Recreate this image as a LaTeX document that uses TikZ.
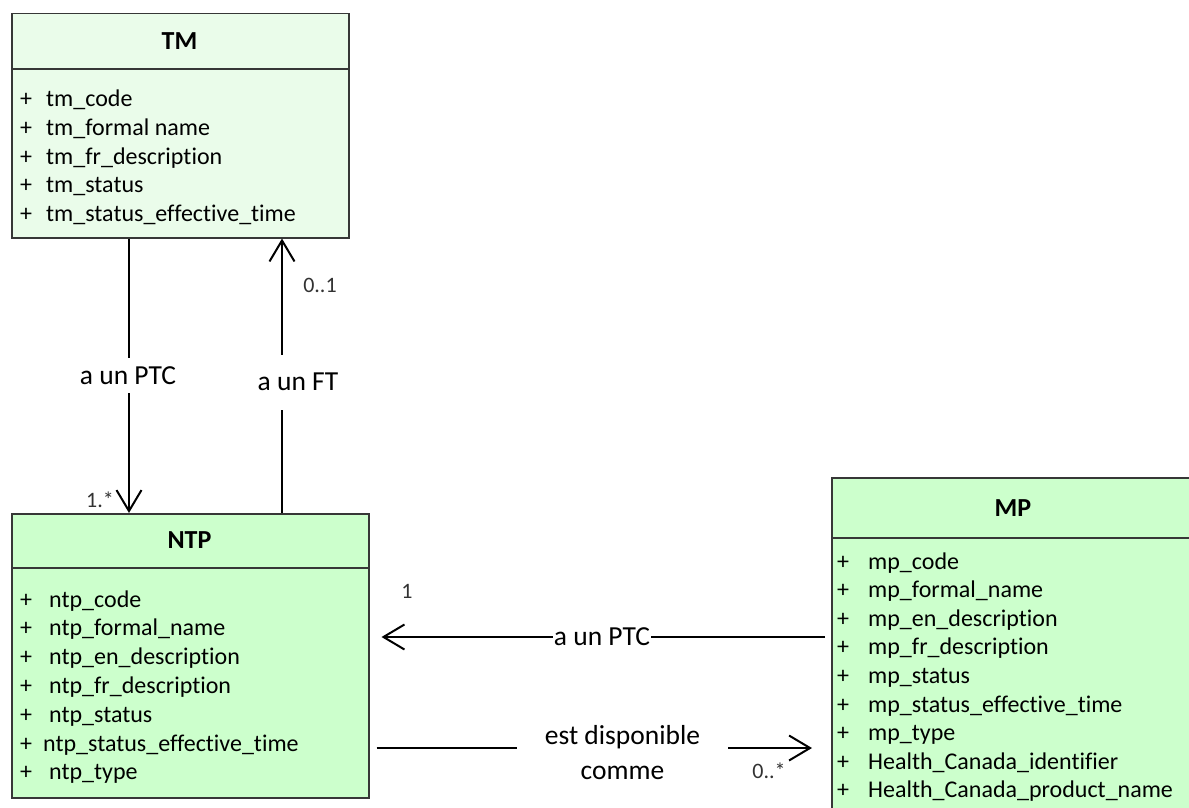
\documentclass[tikz,border=0pt]{standalone}
\usepackage{fontspec}
\setmainfont{Carlito}[Ligatures={NoCommon}]
\usetikzlibrary{arrows.meta}
\definecolor{tmfill}{RGB}{234,252,234}
\definecolor{boxfill}{RGB}{204,255,204}
\definecolor{boxline}{RGB}{55,55,55}
\definecolor{multc}{RGB}{50,50,50}
\begin{document}
\begin{tikzpicture}[x=1pt,y=-1pt,
  classbox/.style={draw=boxline, line width=1.5pt, anchor=north west, inner sep=0pt},
  sepline/.style={draw=boxline, line width=1.5pt},
  titletext/.style={font=\fontsize{26pt}{30pt}\selectfont\bfseries, inner sep=0pt, anchor=base},
  attr/.style={font=\fontsize{24pt}{28pt}\selectfont, inner sep=0pt, anchor=base west},
  plussign/.style={font=\fontsize{24pt}{28pt}\selectfont, inner sep=0pt, anchor=base},
  assoc/.style={draw=black, line width=2pt, -{Straight Barb[length=21pt,width=25pt]}},
  assoclabel/.style={font=\fontsize{27.5pt}{35pt}\selectfont, fill=white, inner sep=0pt},
  mult/.style={font=\fontsize{22pt}{26pt}\selectfont, text=multc, inner sep=0pt, anchor=base}
]
\useasboundingbox (0,0) rectangle (1189,808);
\fill[white] (0,0) rectangle (1189,808);
\clip (0,0) rectangle (1189,808);

% ---------- TM ----------
\node[classbox, fill=tmfill, minimum width=337pt, minimum height=224pt] (TM) at (11,13) {};
\draw[sepline] ([yshift=-56pt]TM.north west) -- ([yshift=-56pt]TM.north east);
\node[titletext] (TMtitle) at (179.5,50) {TM};
\foreach \t [count=\i from 0] in {tm\_code, tm\_formal name, tm\_fr\_description, tm\_status, tm\_status\_effective\_time} {
  \node[plussign] (TMplus\i) at (26,{106.5+28.8*\i}) {+};
  \node[attr] (TMattr\i) at (46,{106.5+28.8*\i}) {\t};
}

% ---------- NTP ----------
\node[classbox, fill=boxfill, minimum width=357pt, minimum height=284pt] (NTP) at (11,513) {};
\draw[sepline] ([yshift=-55pt]NTP.north west) -- ([yshift=-55pt]NTP.north east);
\node[titletext] (NTPtitle) at (189.5,548) {NTP};
\foreach \t/\xx [count=\i from 0] in {ntp\_code/49, ntp\_formal\_name/49, ntp\_en\_description/49, ntp\_fr\_description/49, ntp\_status/49, ntp\_status\_effective\_time/43, ntp\_type/49} {
  \node[plussign] (NTPplus\i) at (26,{607+28.8*\i}) {+};
  \node[attr] (NTPattr\i) at (\xx,{607+28.8*\i}) {\t};
}

% ---------- MP ----------
\node[classbox, fill=boxfill, minimum width=364pt, minimum height=343pt] (MP) at (831,477) {};
\draw[sepline] ([yshift=-61pt]MP.north west) -- ([yshift=-61pt]MP.north east);
\node[titletext] (MPtitle) at (1013,516) {MP};
\foreach \t [count=\i from 0] in {mp\_code, mp\_formal\_name, mp\_en\_description, mp\_fr\_description, mp\_status, mp\_status\_effective\_time, mp\_type, Health\_Canada\_identifier, Health\_Canada\_product\_name} {
  \node[plussign] (MPplus\i) at (843,{569+28.6*\i}) {+};
  \node[attr] (MPattr\i) at (868,{569+28.6*\i}) {\t};
}

% ---------- helper coordinates ----------
\coordinate (xptc) at (129,0);
\coordinate (xft) at (282,0);
\coordinate (yptc) at (0,637);
\coordinate (yest) at (0,748);

% ---------- connectors ----------
% TM -> NTP : a un PTC
\draw[assoc] (xptc |- TM.south) -- (xptc |- NTP.north);
\node[assoclabel, anchor=base, text height=26pt, text depth=9pt] (lblptcv) at (128,384) {a un PTC};
\node[mult] (m1) at (100,507) {1.*};

% NTP -> TM : a un FT
\draw[assoc] (xft |- NTP.north) -- (xft |- TM.south);
\node[assoclabel, anchor=base, text height=35pt, text depth=20pt] (lblft) at (298,390) {a un FT};
\node[mult] (m2) at (320,292) {0..1};

% MP -> NTP : a un PTC
\draw[assoc, shorten <=6pt, shorten >=12pt] (MP.west |- yptc) -- (NTP.east |- yptc);
\node[assoclabel, anchor=base, inner xsep=1pt] (lblptch) at (602,645) {a un PTC};
\node[mult] (m3) at (407,598) {1};

% NTP -> MP : est disponible comme
\draw[assoc, shorten <=7pt, shorten >=19pt] (NTP.east |- yest) -- (MP.west |- yest);
\node[assoclabel, align=center, minimum width=211pt, anchor=center] (lblest) at (622.5,753) {est disponible\\comme};
\node[mult] (m4) at (769,778) {0..*};
\end{tikzpicture}
\end{document}
